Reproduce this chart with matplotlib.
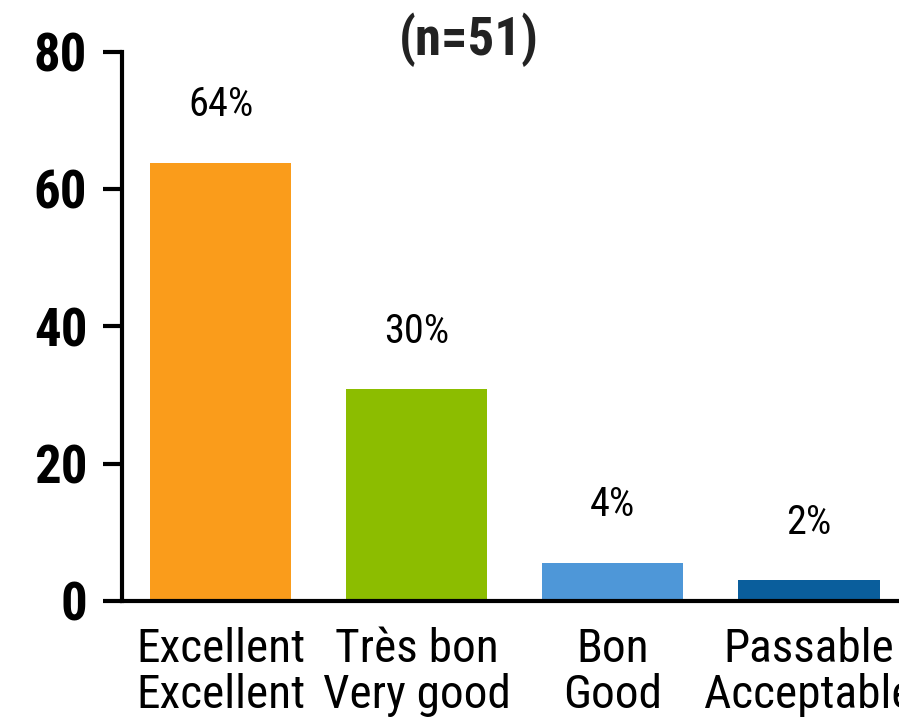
import matplotlib
matplotlib.use("Agg")
import matplotlib.pyplot as plt
from matplotlib import font_manager

# data
categories = ["Excellent\nExcellent", "Très bon\nVery good", "Bon\nGood", "Passable\nAcceptable"]
bar_values = [63.8, 30.8, 5.6, 3.0]
bar_labels = ["64%", "30%", "4%", "2%"]
bar_colors = ["#FA9C1B", "#8CBD00", "#4E97D8", "#0A5E9C"]
yticks = [0, 20, 40, 60, 80]

# look for a narrow face among what is installed
fonts = font_manager.fontManager.ttflist
names = {f.name for f in fonts}
fam = None
for cand in ["Roboto Condensed", "Liberation Sans Narrow", "Open Sans Condensed",
             "Noto Sans Condensed", "DejaVu Sans Condensed"]:
    if cand in names:
        fam = cand
        break
if fam is None:
    fam = "DejaVu Sans"
plt.rcParams['font.family'] = [fam, 'DejaVu Sans']

fig = plt.figure(figsize=(8.99, 7.22), dpi=100)
ax = fig.add_axes([0.1357, 0.1676, 0.8623, 0.761])

x = list(range(len(categories)))
ax.bar(x, bar_values, width=0.72, color=bar_colors)

for i in x:
    ax.annotate(bar_labels[i], xy=(i, bar_values[i]), xytext=(0, 42),
                textcoords="offset points", ha="center", va="center",
                fontsize=29)

ax.set_xlim(-0.503, 3.45)
ax.set_ylim(0, 80)
ax.set_yticks(yticks)
ax.set_yticklabels([str(t) for t in yticks], fontsize=38, fontweight="bold")
ax.set_xticks(x)
ax.set_xticklabels(categories, fontsize=34, linespacing=1.05)
ax.tick_params(axis="y", length=14, width=3, pad=11)
ax.tick_params(axis="x", length=0, pad=19)

for s in ["top", "right"]:
    ax.spines[s].set_visible(False)
ax.spines["left"].set_linewidth(3)
ax.spines["bottom"].set_linewidth(3)

fig.text(0.522, 0.945, "(n=51)", ha="center", va="center", fontsize=38,
         fontweight="bold", color="#222222")

fig.savefig("out.png", dpi=100)
